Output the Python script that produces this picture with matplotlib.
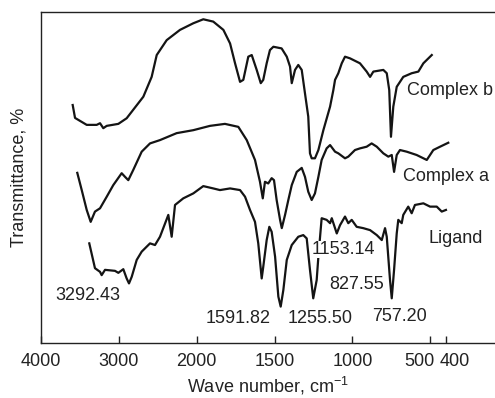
import numpy as np
import matplotlib
matplotlib.use('Agg')
import matplotlib.pyplot as plt
from matplotlib.transforms import ScaledTranslation

plt.rcParams['font.family'] = ['Liberation Sans', 'DejaVu Sans']

# spectra: wave number (cm-1) and transmittance (%)
b_wn = [3593, 3563, 3413, 3285, 3242, 3200, 3156, 3007, 2900, 2686,
        2579, 2514, 2386, 2215, 2044, 1958, 1894, 1829, 1786, 1754,
        1722, 1701, 1669, 1647, 1615, 1589, 1573, 1551, 1530, 1508,
        1455, 1422, 1401, 1390, 1369, 1348, 1326, 1305, 1284, 1273,
        1262, 1241, 1219, 1187, 1144, 1123, 1112, 1091, 1069, 1048,
        1016, 952, 909, 887, 866, 802, 780, 764, 753, 738,
        716, 674, 620, 577, 545, 491]
b_t = [71.9, 68.0, 65.9, 65.9, 66.4, 64.9, 65.6, 66.2, 67.9, 74.4,
       80.4, 87.0, 91.5, 94.6, 96.6, 97.8, 97.1, 94.6, 90.5, 84.5,
       78.9, 79.5, 86.5, 87.0, 82.5, 78.5, 79.5, 84.5, 88.5, 89.5,
       89.0, 86.5, 83.5, 78.5, 82.5, 84.0, 82.5, 75.4, 68.4, 57.3,
       55.8, 55.8, 58.3, 64.3, 71.4, 76.4, 79.5, 81.5, 84.5, 86.5,
       86.0, 84.5, 82.0, 80.4, 82.0, 82.5, 81.5, 76.4, 62.3, 71.4,
       77.4, 80.4, 81.5, 82.0, 84.5, 87.0]

a_wn = [3534, 3477, 3413, 3362, 3307, 3242, 3156, 3072, 2964, 2921,
        2879, 2815, 2707, 2600, 2472, 2258, 2044, 1915, 1819, 1733,
        1679, 1626, 1594, 1576, 1562, 1541, 1519, 1504, 1487, 1465,
        1454, 1433, 1412, 1390, 1358, 1326, 1305, 1284, 1262, 1241,
        1219, 1198, 1166, 1144, 1112, 1091, 1048, 1027, 984, 952,
        909, 877, 844, 802, 770, 748, 733, 716, 695, 652,
        588, 523, 481, 438, 385]
a_t = [51.4, 46.2, 40.2, 36.6, 39.7, 40.7, 44.2, 47.7, 51.3, 50.2,
       49.2, 52.3, 57.8, 60.3, 61.3, 63.4, 64.3, 65.6, 66.2, 65.3,
       61.3, 55.3, 48.7, 43.7, 48.7, 48.2, 49.8, 49.2, 43.2, 37.2,
       34.7, 38.7, 43.2, 47.7, 51.7, 52.9, 50.2, 45.7, 43.2, 45.2,
       50.2, 55.3, 58.8, 59.8, 57.8, 57.3, 55.8, 56.3, 58.3, 58.8,
       59.3, 60.3, 59.3, 57.3, 56.3, 56.8, 51.7, 56.8, 58.3, 57.8,
       56.8, 55.3, 58.3, 59.3, 60.5]

l_wn = [3380, 3307, 3242, 3221, 3178, 3050, 3007, 2943, 2900, 2870,
        2835, 2771, 2707, 2643, 2600, 2536, 2472, 2365, 2322, 2279,
        2173, 2044, 1958, 1894, 1851, 1786, 1722, 1690, 1658, 1626,
        1605, 1583, 1573, 1551, 1534, 1519, 1497, 1476, 1461, 1444,
        1422, 1390, 1348, 1316, 1294, 1273, 1252, 1230, 1219, 1198,
        1166, 1144, 1133, 1101, 1080, 1048, 1027, 1005, 973, 931,
        887, 844, 812, 791, 780, 759, 748, 733, 716, 706,
        684, 674, 642, 620, 599, 545, 502, 459, 427, 400]
l_t = [30.1, 22.6, 21.5, 20.5, 22.1, 21.8, 21.2, 22.3, 19.5, 18.0,
       20.0, 25.1, 27.6, 29.1, 30.1, 29.6, 32.1, 38.7, 32.1, 41.7,
       43.7, 45.2, 47.4, 46.7, 46.2, 46.7, 46.2, 44.2, 40.2, 36.6,
       30.1, 19.5, 23.0, 31.1, 35.1, 33.6, 26.1, 14.0, 11.0, 16.0,
       25.1, 29.6, 32.1, 32.6, 31.6, 22.1, 13.5, 19.0, 26.1, 37.7,
       37.2, 36.2, 37.7, 33.1, 35.6, 38.2, 36.2, 37.2, 35.1, 34.7,
       34.1, 32.6, 31.1, 34.7, 32.1, 19.0, 13.5, 22.1, 33.1, 37.2,
       36.2, 38.7, 41.2, 39.2, 41.7, 42.2, 41.2, 41.2, 39.7, 40.2]

tick_wn = [4000, 3000, 2000, 1500, 1000, 500, 400]


# spectrometer chart: scale doubles below 2000 cm-1
def forward(w):
    w = np.asarray(w, dtype=float)
    return np.where(w <= 2000, w, 2000 + (w - 2000) / 2)


def inverse(g):
    g = np.asarray(g, dtype=float)
    return np.where(g <= 2000, g, 2000 + (g - 2000) * 2)


fig = plt.figure(figsize=(4.95, 3.98), dpi=100)
ax = fig.add_axes([41 / 495, 55 / 398, 454 / 495, 331 / 398])
ax.set_xscale('function', functions=(forward, inverse))

col = '#141414'
for wn, t in [(b_wn, b_t), (a_wn, a_t), (l_wn, l_t)]:
    ax.plot(wn, t, color=col, lw=1.6, solid_joinstyle='round')

ax.set_xlim(4000, 85)
ax.set_ylim(0, 100)
ax.set_xticks(tick_wn)
ax.set_xticklabels([str(v) for v in tick_wn])
ax.minorticks_off()
ax.set_yticks([])
ax.tick_params(axis='x', direction='in', length=5, width=1, pad=7,
               labelsize=13, colors='#222222')
ax.spines['right'].set_visible(False)
for s in ['left', 'bottom', 'top']:
    ax.spines[s].set_linewidth(1.0)
    ax.spines[s].set_color('#222222')

# the original nudges the 500 / 400 labels apart
for tick, dx in zip(ax.xaxis.get_major_ticks(), [0, 0, 0, 0, 0, -0.11, 0.09]):
    if dx:
        tick.label1.set_transform(tick.label1.get_transform()
                                  + ScaledTranslation(dx, 0, fig.dpi_scale_trans))

ax.set_xlabel(r'Wave number, cm$^{\mathregular{-1}}$', fontsize=13, color='#222222')
ax.set_ylabel('Transmittance, %', fontsize=13, color='#222222', labelpad=10)

fs = 13
ax.text(650, 76.4, 'Complex b', fontsize=fs, va='center', ha='left', color='#222222')
ax.text(676, 50.2, 'Complex a', fontsize=fs, va='center', ha='left', color='#222222')
ax.text(515, 31.7, 'Ligand', fontsize=fs, va='center', ha='left', color='#222222')

ax.text(3397, 14.5, '3292.43', fontsize=fs, ha='center', va='center', color='#222222')
ax.text(1735, 7.4, '1591.82', fontsize=fs, ha='center', va='center', color='#222222')
ax.text(1209, 7.4, '1255.50', fontsize=fs, ha='center', va='center', color='#222222')
ax.text(701, 8.0, '757.20', fontsize=fs, ha='center', va='center', color='#222222')
ax.text(971, 17.7, '827.55', fontsize=fs, ha='center', va='center', color='#222222')
ax.text(1061, 28.1, '1153.14', fontsize=fs, ha='center', va='center', color='#222222',
        bbox=dict(boxstyle='square,pad=0', fc='white', ec='none'))

fig.savefig('out.png', dpi=100)
